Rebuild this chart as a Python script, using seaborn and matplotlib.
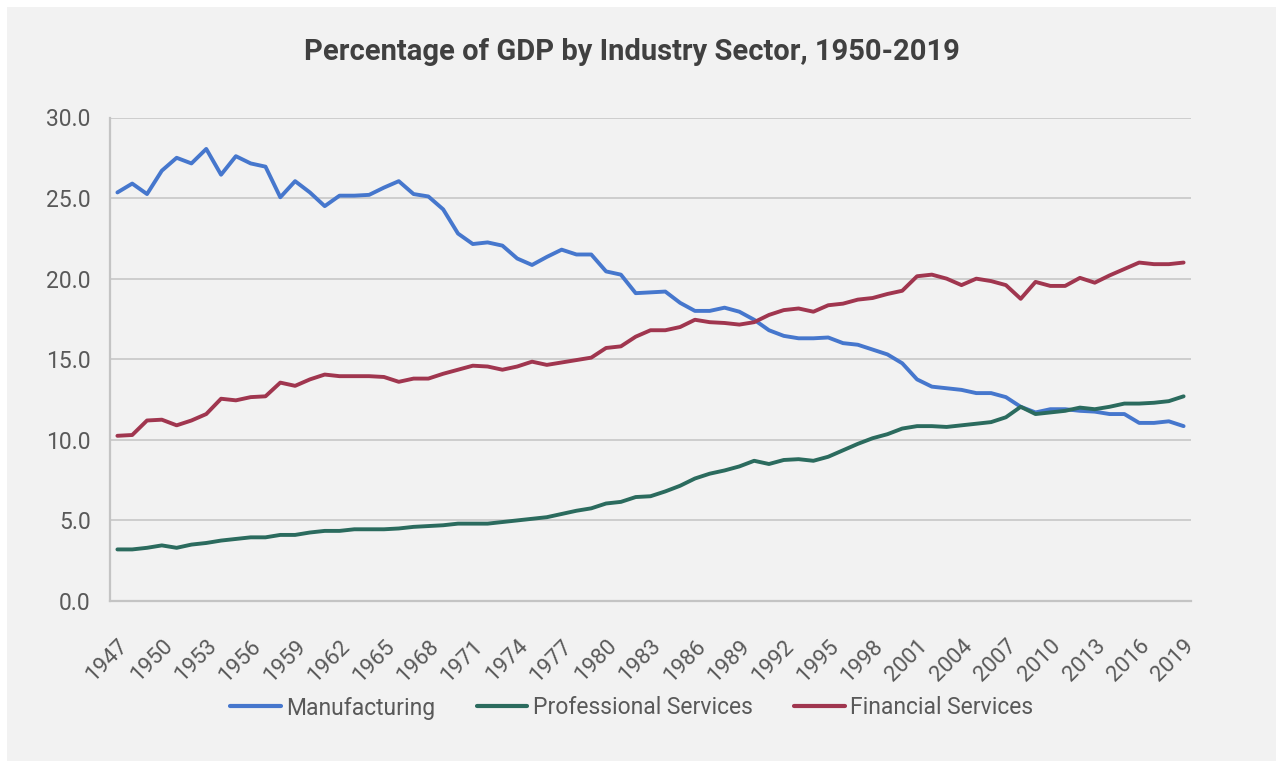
import numpy as np
import pandas as pd
import seaborn as sns
import matplotlib.pyplot as plt
from matplotlib.patches import Rectangle
from matplotlib.lines import Line2D

# Share of GDP (%) by industry sector, annual values 1947-2019
years = list(range(1947, 2020))

manufacturing = [
    25.35, 25.9, 25.25, 26.7, 27.5, 27.15, 28.05, 26.45, 27.6, 27.15,
    26.95, 25.05, 26.05, 25.35, 24.5, 25.15, 25.15, 25.2, 25.65, 26.05,
    25.25, 25.1, 24.3, 22.8, 22.15, 22.25, 22.05, 21.25, 20.85, 21.35,
    21.8, 21.5, 21.5, 20.45, 20.25, 19.1, 19.15, 19.2, 18.5, 18.0,
    18.0, 18.2, 17.95, 17.45, 16.8, 16.45, 16.3, 16.3, 16.35, 16.0,
    15.9, 15.6, 15.3, 14.75, 13.75, 13.3, 13.2, 13.1, 12.9, 12.9,
    12.65, 12.05, 11.7, 11.9, 11.9, 11.8, 11.75, 11.6, 11.6, 11.05,
    11.05, 11.15, 10.85,
]

professional = [
    3.2, 3.2, 3.3, 3.45, 3.3, 3.5, 3.6, 3.75, 3.85, 3.95,
    3.95, 4.1, 4.1, 4.25, 4.35, 4.35, 4.45, 4.45, 4.45, 4.5,
    4.6, 4.65, 4.7, 4.8, 4.8, 4.8, 4.9, 5.0, 5.1, 5.2,
    5.4, 5.6, 5.75, 6.05, 6.15, 6.45, 6.5, 6.8, 7.15, 7.6,
    7.9, 8.1, 8.35, 8.7, 8.5, 8.75, 8.8, 8.7, 8.95, 9.35,
    9.75, 10.1, 10.35, 10.7, 10.85, 10.85, 10.8, 10.9, 11.0, 11.1,
    11.4, 12.05, 11.6, 11.7, 11.8, 12.0, 11.9, 12.05, 12.25, 12.25,
    12.3, 12.4, 12.7,
]

financial = [
    10.25, 10.3, 11.2, 11.25, 10.9, 11.2, 11.6, 12.55, 12.45, 12.65,
    12.7, 13.55, 13.35, 13.75, 14.05, 13.95, 13.95, 13.95, 13.9, 13.6,
    13.8, 13.8, 14.1, 14.35, 14.6, 14.55, 14.35, 14.55, 14.85, 14.65,
    14.8, 14.95, 15.1, 15.7, 15.8, 16.4, 16.8, 16.8, 17.0, 17.45,
    17.3, 17.25, 17.15, 17.3, 17.75, 18.05, 18.15, 17.95, 18.35, 18.45,
    18.7, 18.8, 19.05, 19.25, 20.15, 20.25, 20.0, 19.6, 20.0, 19.85,
    19.6, 18.75, 19.8, 19.55, 19.55, 20.05, 19.75, 20.2, 20.6, 21.0,
    20.9, 20.9, 21.0,
]

sectors = ["Manufacturing", "Professional Services", "Financial Services"]
colors = ["#4677CD", "#2B6B5E", "#A0364F"]
y_ticks = [0, 5, 10, 15, 20, 25, 30]
x_labels = years[::3]

df = pd.DataFrame({
    "year": years * 3,
    "value": manufacturing + professional + financial,
    "sector": [s for s in sectors for _ in years],
})

sns.set_theme(style="white")
plt.rcParams["font.family"] = ["Roboto", "DejaVu Sans"]

W, H = 1283, 767
fig = plt.figure(figsize=(W / 100, H / 100), dpi=100, facecolor="white")

# light grey card behind the whole chart
fig.patches.append(Rectangle((7 / W, 1 - 761 / H), (1276 - 7) / W, (761 - 7) / H,
                             transform=fig.transFigure, facecolor="#f2f2f2",
                             edgecolor="none", zorder=-10))

ax = fig.add_axes([110 / W, 1 - 601 / H, (1191 - 110) / W, (601 - 117.5) / H])
ax.set_facecolor("none")

sns.lineplot(data=df, x="year", y="value", hue="sector", hue_order=sectors,
             palette=colors, linewidth=2.8, ax=ax, legend=False)
for ln in ax.lines:
    ln.set_solid_joinstyle("round")
    ln.set_solid_capstyle("round")

ax.set_xlim(1946.5, 2019.5)
ax.set_ylim(0, 30)

ax.set_yticks(y_ticks)
ax.set_yticklabels([f"{v:.1f}" for v in y_ticks])
ax.yaxis.grid(True, color="#cbcbcb", linewidth=1.3)
ax.set_axisbelow(True)

ax.set_xticks(x_labels)
ax.set_xticklabels([str(y) for y in x_labels], rotation=45, ha="right",
                   rotation_mode="anchor")
ax.set_xticks(np.arange(1949.5, 2019, 3), minor=True)

ax.tick_params(axis="y", length=0, pad=14, labelsize=16.5, labelcolor="#595959")
ax.tick_params(axis="x", which="major", length=0, pad=25, labelsize=16,
               labelcolor="#595959")
ax.tick_params(axis="x", which="minor", direction="in", length=5, width=1.2,
               color="#c4c4c4")

for side in ("top", "right"):
    ax.spines[side].set_visible(False)
for side in ("left", "bottom"):
    ax.spines[side].set_color("#c4c4c4")
    ax.spines[side].set_linewidth(1.6)

ax.set_xlabel("")
ax.set_ylabel("")

fig.text(632 / W, 1 - 52 / H, "Percentage of GDP by Industry Sector, 1950-2019",
         ha="center", va="center", fontsize=21, fontweight="bold", color="#404040")

handles = [Line2D([0], [0], color=c, linewidth=3) for c in colors]
fig.legend(handles, sectors, loc="center", bbox_to_anchor=(632 / W, 1 - 708 / H),
           ncol=3, frameon=False, fontsize=16.5, labelcolor="#595959",
           handlelength=2.2, handletextpad=0.25, columnspacing=1.8)

fig.savefig("out.png", dpi=100, facecolor="white")
